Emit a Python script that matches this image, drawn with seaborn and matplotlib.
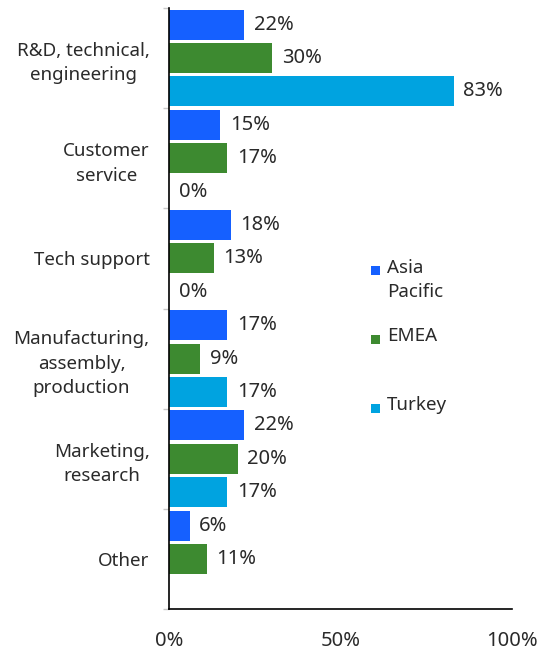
import numpy as np
import pandas as pd
import seaborn as sns
import matplotlib.pyplot as plt
from matplotlib.patches import Rectangle

# data
categories = ["R&D, technical,\nengineering", "Customer\nservice", "Tech support",
              "Manufacturing,\nassembly,\nproduction", "Marketing,\nresearch", "Other"]
series = ["Asia\nPacific", "EMEA", "Turkey"]
asia_pacific = [22, 15, 18, 17, 22, 6]
emea = [30, 17, 13, 9, 20, 11]
turkey = [83, 0, 0, 17, 17, np.nan]
x_ticks = [0, 50, 100]
x_tick_labels = ["0%", "50%", "100%"]

colors = ["#1560ff", "#3d8a30", "#00a3e0"]
text_color = "#2a2a2a"
fs_text = 13.5   # category and legend labels
fs_num = 14.5    # percentages

df = pd.DataFrame({
    "category": categories * 3,
    "region": [series[0]] * 6 + [series[1]] * 6 + [series[2]] * 6,
    "share": asia_pacific + emea + turkey,
})

sns.set_style("white")
plt.rcParams["font.family"] = ["Noto Sans", "DejaVu Sans"]

fig = plt.figure(figsize=(5.42, 6.54), dpi=100)
ax = fig.add_axes([169 / 542, 1 - 609 / 654, (512 - 169) / 542, (609 - 8) / 654])

sns.barplot(data=df, x="share", y="category", hue="region", orient="h",
            palette=colors, saturation=1, width=1.0, gap=0.1, errorbar=None,
            legend=False, ax=ax, linewidth=0)

for cont in ax.containers:
    labels = [f"{b.get_width():.0f}%" for b in cont]
    ax.bar_label(cont, labels=labels, padding=7, fontsize=fs_num, color=text_color)

ax.set_xlim(0, 100)
ax.set_ylim(5.5, -0.5)
ax.set_xticks(x_ticks)
ax.set_xticklabels(x_tick_labels, fontsize=fs_num, color=text_color)
ax.tick_params(axis="x", length=5, color="#c8c8c8", pad=11, width=1)
ax.set_yticks(range(len(categories)))
ax.set_yticklabels(categories, fontsize=fs_text, color=text_color, ha="right",
                   multialignment="center", linespacing=1.45)
ax.tick_params(axis="y", which="major", length=0, pad=14)
ax.set_yticks(np.arange(-0.5, 6, 1), minor=True)
ax.tick_params(axis="y", which="minor", length=4.5, color="#c8c8c8", width=1, left=True)
ax.set_xlabel("")
ax.set_ylabel("")

for side in ["top", "right"]:
    ax.spines[side].set_visible(False)
for side in ["left", "bottom"]:
    ax.spines[side].set_color("black")
    ax.spines[side].set_linewidth(1.2)

# legend: small squares aligned with the first line of each label
legend_y = [271, 339, 408]
for name, c, y in zip(series, colors, legend_y):
    fig.patches.append(Rectangle((371 / 542, 1 - (y + 4.5) / 654), 9 / 542, 9 / 654,
                                 transform=fig.transFigure, facecolor=c, edgecolor="none"))
    fig.text(387 / 542, 1 - (y - 12) / 654, name, fontsize=fs_text, color=text_color,
             va="top", ha="left", linespacing=1.45)

fig.savefig("out.png", dpi=100)
